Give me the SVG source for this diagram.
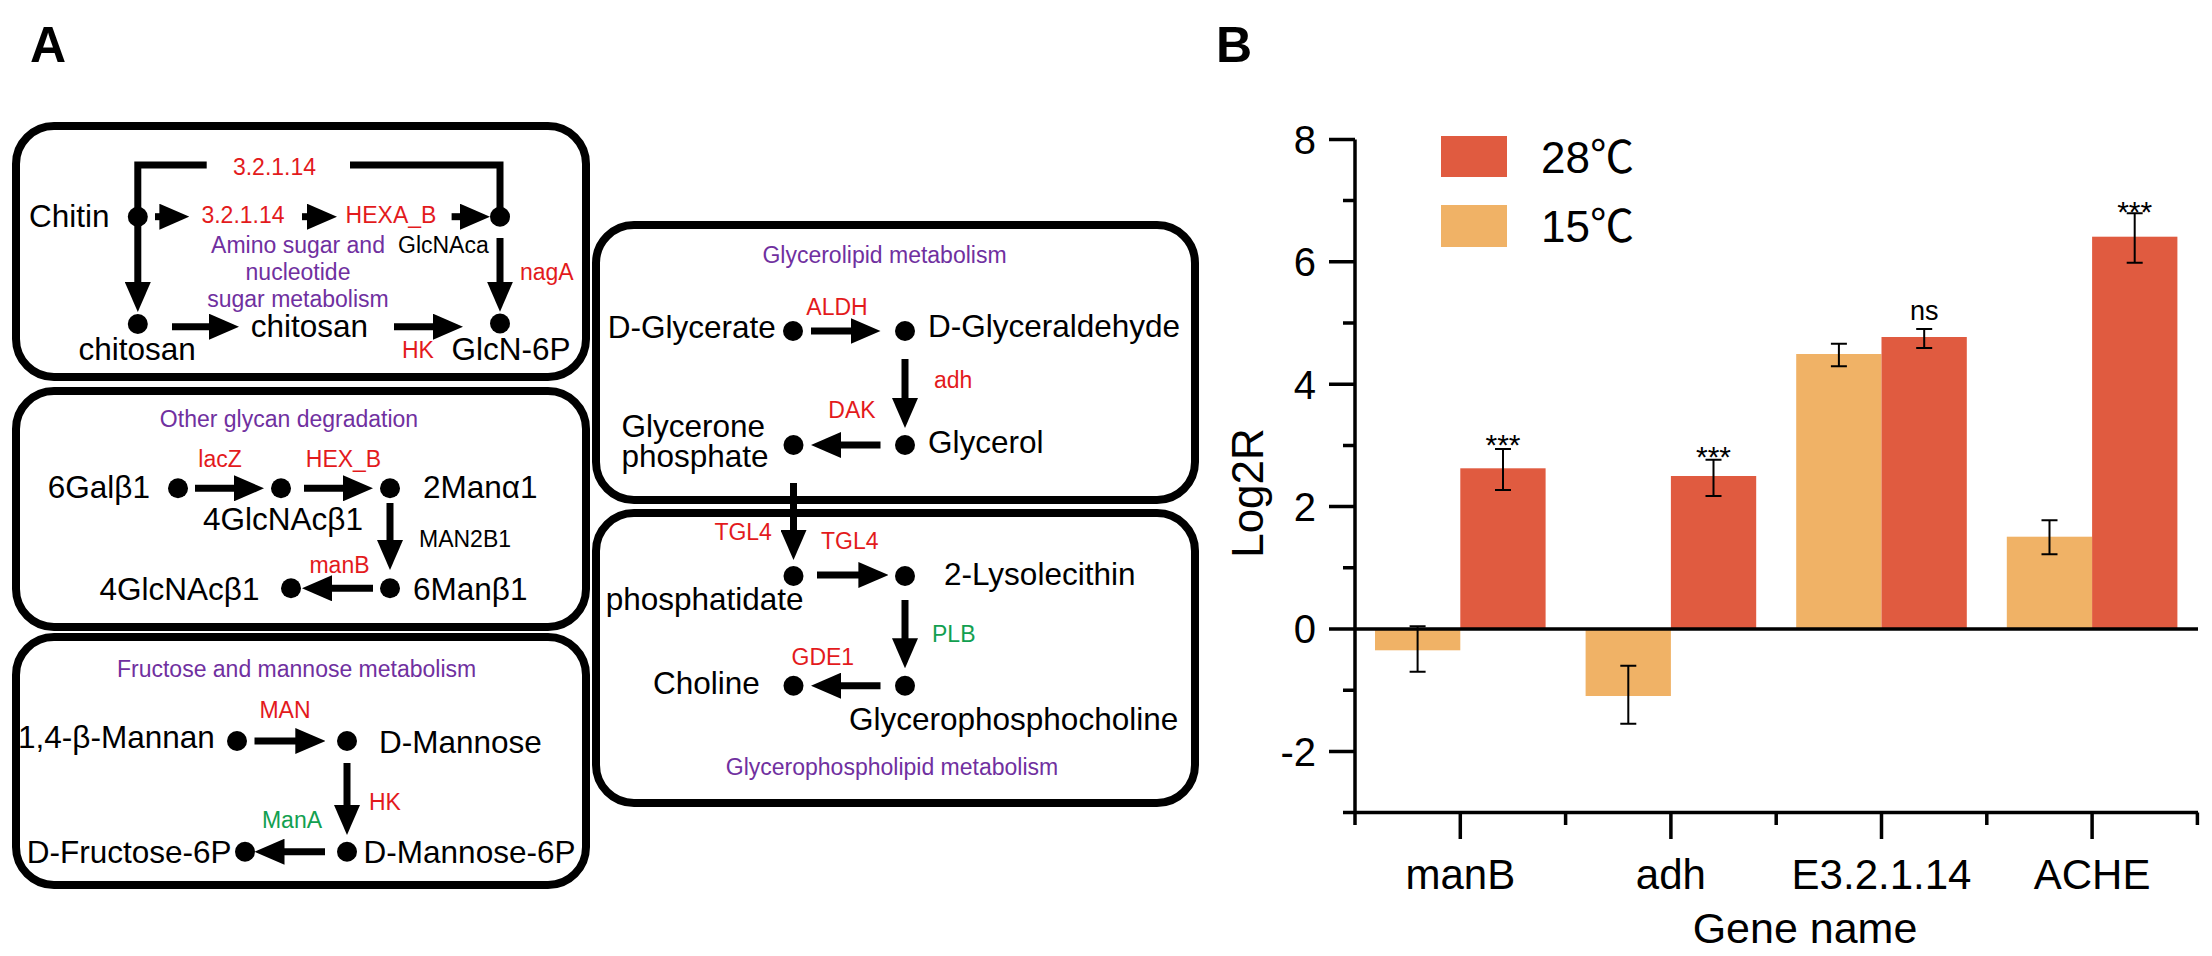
<svg xmlns="http://www.w3.org/2000/svg" width="2212" height="956" viewBox="0 0 2212 956">
<defs>
<marker id="ah" markerUnits="userSpaceOnUse" markerWidth="30" markerHeight="26" refX="10" refY="13" orient="auto">
<path d="M0,0 L30,13 L0,26 Z" fill="#000"/>
</marker>
<style>
text{font-family:"Liberation Sans",Arial,sans-serif}
.box{fill:none;stroke:#000;stroke-width:8}
.lbl{font-size:31.5px;fill:#000}
.enz{font-size:23px;fill:#E31A1C}
.grn{font-size:23px;fill:#12A050}
.sm{font-size:23px;fill:#000}
.ttl{font-size:23px;fill:#7030A0;text-anchor:middle}
.mid{text-anchor:middle}
.dot{fill:#000}
.ln{fill:none;stroke:#000;stroke-width:7;stroke-linejoin:miter}
.arr{fill:none;stroke:#000;stroke-width:7;marker-end:url(#ah)}
.ax{stroke:#000;stroke-width:3.5;fill:none}
.eb{stroke:#000;stroke-width:2;fill:none}
.r28{fill:#E05B40}
.o15{fill:#F0B266}
.tk{font-size:40px;text-anchor:end}
.cat{font-size:42px;text-anchor:middle}
.sig{font-size:30px;text-anchor:middle}
</style>
</defs>
<rect width="2212" height="956" fill="#fff"/>
<g id="panel-labels">
<text x="30" y="62" font-size="50" font-weight="bold">A</text>
<text x="1216" y="62" font-size="50" font-weight="bold">B</text>
</g>

<g id="box-amino-sugar">
<rect class="box" x="16" y="126" width="570" height="251" rx="38"/>
<text class="lbl" x="29" y="227">Chitin</text>
<text class="enz mid" x="274.5" y="175">3.2.1.14</text>
<text class="enz mid" x="243" y="223">3.2.1.14</text>
<text class="enz mid" x="391" y="223">HEXA_B</text>
<text class="ttl" font-size="22.5" x="298" y="253">Amino sugar and</text>
<text class="ttl" font-size="22.5" x="298" y="280">nucleotide</text>
<text class="ttl" font-size="22.5" x="298" y="307">sugar metabolism</text>
<text class="sm" x="398" y="253">GlcNAca</text>
<text class="enz" x="520" y="280">nagA</text>
<text class="lbl" x="78.5" y="360">chitosan</text>
<text class="lbl" x="250.7" y="337">chitosan</text>
<text class="enz" x="402" y="358">HK</text>
<text class="lbl" x="451.6" y="360" font-size="30">GlcN-6P</text>
<circle class="dot" cx="137.8" cy="216.7" r="10"/>
<circle class="dot" cx="500" cy="216.7" r="10"/>
<circle class="dot" cx="137.8" cy="324" r="10"/>
<circle class="dot" cx="500" cy="323.5" r="10"/>
</g>

<g id="box-other-glycan">
<rect class="box" x="16" y="391" width="570" height="236" rx="38"/>
<text class="ttl" x="289" y="427">Other glycan degradation</text>
<text class="enz mid" x="220" y="467">lacZ</text>
<text class="enz mid" x="343.5" y="467">HEX_B</text>
<text class="lbl" x="47.8" y="498">6Galβ1</text>
<text class="lbl" x="423" y="498">2Manα1</text>
<text class="lbl" x="203" y="530">4GlcNAcβ1</text>
<text class="sm" x="419" y="547">MAN2B1</text>
<text class="enz mid" x="339.5" y="573">manB</text>
<text class="lbl" x="413" y="600">6Manβ1</text>
<text class="lbl" x="99.5" y="600">4GlcNAcβ1</text>
<circle class="dot" cx="178" cy="488.3" r="10"/>
<circle class="dot" cx="281" cy="488.3" r="10"/>
<circle class="dot" cx="390" cy="488.3" r="10"/>
<circle class="dot" cx="390" cy="588.3" r="10"/>
<circle class="dot" cx="291" cy="588.3" r="10"/>
</g>

<g id="box-fructose-mannose">
<rect class="box" x="16" y="637" width="570" height="248" rx="38"/>
<text class="ttl" x="296.6" y="677">Fructose and mannose metabolism</text>
<text class="enz mid" x="285" y="718">MAN</text>
<text class="lbl" x="18" y="748" font-size="32">1,4-β-Mannan</text>
<text class="lbl" x="379" y="753">D-Mannose</text>
<text class="enz" x="369" y="810">HK</text>
<text class="grn mid" x="292" y="828">ManA</text>
<text class="lbl" x="363.6" y="863">D-Mannose-6P</text>
<text class="lbl" x="26.8" y="863" font-size="32.5">D-Fructose-6P</text>
<circle class="dot" cx="237" cy="741" r="10"/>
<circle class="dot" cx="347" cy="741" r="10"/>
<circle class="dot" cx="347" cy="851.7" r="10"/>
<circle class="dot" cx="245" cy="851.7" r="10"/>
</g>

<g id="box-glycerolipid">
<rect class="box" x="596" y="225" width="599" height="275" rx="38"/>
<text class="ttl" x="884.5" y="263">Glycerolipid metabolism</text>
<text class="enz mid" x="837" y="315">ALDH</text>
<text class="lbl" x="607.7" y="338">D-Glycerate</text>
<text class="lbl" x="928" y="337" font-size="30.5">D-Glyceraldehyde</text>
<text class="enz" x="934" y="388">adh</text>
<text class="enz mid" x="852" y="418">DAK</text>
<text class="lbl" x="928" y="453">Glycerol</text>
<text class="lbl" x="621.5" y="437">Glycerone</text>
<text class="lbl" x="621.5" y="467">phosphate</text>
<circle class="dot" cx="793" cy="331" r="10"/>
<circle class="dot" cx="905" cy="331" r="10"/>
<circle class="dot" cx="905" cy="445" r="10"/>
<circle class="dot" cx="793.5" cy="445" r="10"/>
</g>

<g id="box-glycerophospholipid">
<rect class="box" x="596" y="513" width="599" height="290" rx="38"/>
<text class="enz" x="714.4" y="540">TGL4</text>
<text class="enz" x="821" y="549">TGL4</text>
<text class="lbl" x="944" y="585">2-Lysolecithin</text>
<text class="lbl" x="605.7" y="610">phosphatidate</text>
<text class="grn" x="932" y="642">PLB</text>
<text class="enz" x="791.5" y="665">GDE1</text>
<text class="lbl" x="653" y="694">Choline</text>
<text class="lbl" x="849" y="730">Glycerophosphocholine</text>
<text class="ttl" x="892" y="775">Glycerophospholipid metabolism</text>
<circle class="dot" cx="793.5" cy="576" r="10"/>
<circle class="dot" cx="905" cy="576" r="10"/>
<circle class="dot" cx="905" cy="685.7" r="10"/>
<circle class="dot" cx="793.5" cy="685.7" r="10"/>
</g>

<g id="connectors">
<polyline class="arr" points="206.7,165 137.8,165 137.8,292"/>
<polyline class="ln" points="350,165 500,165 500,216"/>
<line class="arr" x1="155" y1="216.7" x2="169.4" y2="216.7"/>
<line class="arr" x1="302" y1="216.7" x2="317" y2="216.7"/>
<line class="arr" x1="451.6" y1="216.7" x2="470" y2="216.7"/>
<line class="arr" x1="500" y1="238" x2="500" y2="291.7"/>
<line class="arr" x1="172" y1="326.7" x2="219" y2="326.7"/>
<line class="arr" x1="394" y1="326.7" x2="443" y2="326.7"/>
<line class="arr" x1="195" y1="488.3" x2="244" y2="488.3"/>
<line class="arr" x1="304" y1="488.3" x2="353" y2="488.3"/>
<line class="arr" x1="390" y1="503" x2="390" y2="550"/>
<line class="arr" x1="373" y1="588.3" x2="322" y2="588.3"/>
<line class="arr" x1="254.5" y1="741" x2="305.3" y2="741"/>
<line class="arr" x1="347" y1="763" x2="347" y2="815"/>
<line class="arr" x1="325" y1="851.7" x2="274.5" y2="851.7"/>
<line class="arr" x1="811" y1="331" x2="860.5" y2="331"/>
<line class="arr" x1="905" y1="359" x2="905" y2="408"/>
<line class="arr" x1="880.5" y1="445" x2="831" y2="445"/>
<line class="arr" x1="793.5" y1="483" x2="793.5" y2="540"/>
<line class="arr" x1="817" y1="575" x2="868.4" y2="575"/>
<line class="arr" x1="905" y1="600" x2="905" y2="648.3"/>
<line class="arr" x1="880.5" y1="685.7" x2="831" y2="685.7"/>
</g>

<g id="chart">
<g id="bars">
<rect class="o15" x="1375" y="629" width="85.3" height="21.3"/>
<rect class="r28" x="1460.3" y="468.3" width="85.3" height="160.7"/>
<rect class="o15" x="1585.6" y="629" width="85.3" height="67"/>
<rect class="r28" x="1670.9" y="476" width="85.3" height="153"/>
<rect class="o15" x="1796.2" y="354" width="85.3" height="275"/>
<rect class="r28" x="1881.5" y="337" width="85.3" height="292"/>
<rect class="o15" x="2006.8" y="536.7" width="85.3" height="92.3"/>
<rect class="r28" x="2092.1" y="236.7" width="85.3" height="392.3"/>
</g>
<g id="error-bars">
<path class="eb" d="M1417.6,626.3V671.7M1409.6,626.3H1425.6M1409.6,671.7H1425.6"/>
<path class="eb" d="M1503,449V490M1495,449H1511M1495,490H1511"/>
<path class="eb" d="M1628.3,665.7V723.7M1620.3,665.7H1636.3M1620.3,723.7H1636.3"/>
<path class="eb" d="M1713.5,459.7V496M1705.5,459.7H1721.5M1705.5,496H1721.5"/>
<path class="eb" d="M1838.9,343.7V366.3M1830.9,343.7H1846.9M1830.9,366.3H1846.9"/>
<path class="eb" d="M1924.2,329V348M1916.2,329H1932.2M1916.2,348H1932.2"/>
<path class="eb" d="M2049.5,520.3V554.3M2041.5,520.3H2057.5M2041.5,554.3H2057.5"/>
<path class="eb" d="M2134.7,213.3V262.7M2126.7,213.3H2142.7M2126.7,262.7H2142.7"/>
</g>
<g id="axes">
<path class="ax" d="M1355,139.4V825"/>
<path class="ax" d="M1329,139.4H1355M1329,261.8H1355M1329,384.2H1355M1329,506.6H1355M1329,629H2198M1329,751.4H1355"/>
<path class="ax" d="M1343,200.6H1355M1343,323H1355M1343,445.4H1355M1343,567.8H1355M1343,690.2H1355"/>
<path class="ax" d="M1343,812.6H2198"/>
<path class="ax" d="M1565.6,812.6V825M1776.2,812.6V825M1986.8,812.6V825M2197.4,812.6V825"/>
<path class="ax" d="M1460.3,812.6V839M1670.9,812.6V839M1881.5,812.6V839M2092.1,812.6V839"/>
</g>
<g id="tick-labels">
<text class="tk" x="1316" y="154">8</text>
<text class="tk" x="1316" y="276">6</text>
<text class="tk" x="1316" y="399">4</text>
<text class="tk" x="1316" y="521">2</text>
<text class="tk" x="1316" y="643">0</text>
<text class="tk" x="1316" y="766">-2</text>
</g>
<text x="1263" y="493" font-size="44" text-anchor="middle" transform="rotate(-90 1263 493)">Log2R</text>
<g id="categories">
<text class="cat" x="1460.3" y="889">manB</text>
<text class="cat" x="1670.9" y="889">adh</text>
<text class="cat" x="1881.5" y="889">E3.2.1.14</text>
<text class="cat" x="2092.1" y="889">ACHE</text>
</g>
<text x="1805" y="943" font-size="43" text-anchor="middle">Gene name</text>
<g id="significance">
<text class="sig" x="1503" y="455">***</text>
<text class="sig" x="1713.5" y="467">***</text>
<text x="1924.2" y="320" font-size="27" text-anchor="middle">ns</text>
<text class="sig" x="2134.7" y="222">***</text>
</g>
<g id="legend">
<rect class="r28" x="1441" y="136" width="66" height="41"/>
<rect class="o15" x="1441" y="205" width="66" height="42"/>
<text x="1541" y="173" font-size="44">28<tspan font-family="'Noto Sans CJK SC',sans-serif">℃</tspan></text>
<text x="1541" y="242" font-size="44">15<tspan font-family="'Noto Sans CJK SC',sans-serif">℃</tspan></text>
</g>
</g>
</svg>
